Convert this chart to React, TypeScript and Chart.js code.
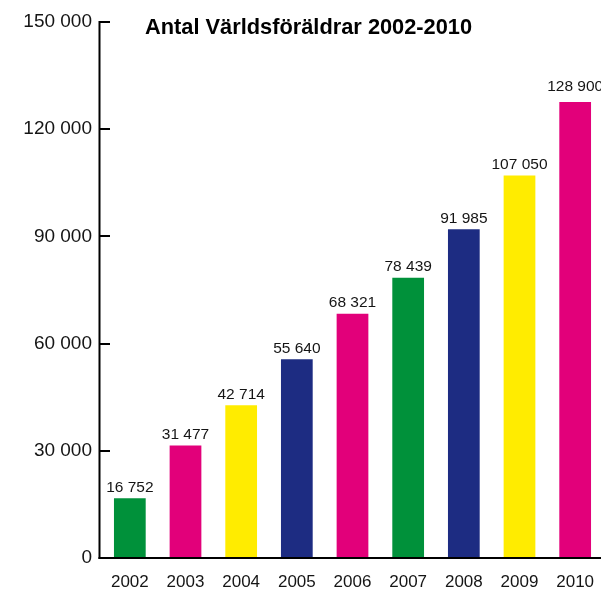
import { useEffect, useRef } from "react";
import { Chart, registerables } from "chart.js";

Chart.register(...registerables);

const years = ["2002", "2003", "2004", "2005", "2006", "2007", "2008", "2009", "2010"];
const barValues = [16752, 31477, 42714, 55640, 68321, 78439, 91985, 107050, 127600];
const printedValues = [16752, 31477, 42714, 55640, 68321, 78439, 91985, 107050, 128900];
const barColors = ["#00913A", "#E2007A", "#FFEC00", "#1D2C82", "#E2007A", "#00913A", "#1D2C82", "#FFEC00", "#E2007A"];
const yTicks = [0, 30000, 60000, 90000, 120000, 150000];
const chartTitle = "Antal Världsföräldrar 2002-2010";

const FONT = "'Liberation Sans', Arial, Helvetica, sans-serif";
const TEXT = "#151515";

const fmt = (n: number) => String(n).replace(/\B(?=(\d{3})+(?!\d))/g, " ");

const decor = {
  id: "decor",
  afterDraw(chart: any) {
    const { ctx, chartArea, scales } = chart;
    const ys = scales.y;
    const axisX = chartArea.left - 2.5;
    ctx.save();
    ctx.strokeStyle = "#000";
    ctx.lineWidth = 2;
    ctx.beginPath();
    ctx.moveTo(axisX, ys.getPixelForValue(150000) - 1);
    ctx.lineTo(axisX, chartArea.bottom + 1);
    ctx.stroke();
    ctx.beginPath();
    ctx.moveTo(axisX - 1, chartArea.bottom);
    ctx.lineTo(chart.width, chartArea.bottom);
    ctx.stroke();
    yTicks.forEach((t) => {
      const py = Math.round(ys.getPixelForValue(t));
      ctx.beginPath();
      ctx.moveTo(axisX, py);
      ctx.lineTo(axisX + 10.5, py);
      ctx.stroke();
    });
    ctx.fillStyle = TEXT;
    ctx.font = `15.5px ${FONT}`;
    ctx.textAlign = "center";
    ctx.textBaseline = "alphabetic";
    const meta = chart.getDatasetMeta(0);
    meta.data.forEach((bar: any, i: number) => {
      const py = ys.getPixelForValue(printedValues[i]);
      ctx.fillText(fmt(printedValues[i]), bar.x, py - 6.5);
    });
    ctx.font = `bold 21.8px ${FONT}`;
    ctx.textAlign = "left";
    ctx.fillStyle = "#000";
    ctx.fillText(chartTitle, chartArea.left + 43, 34);
    ctx.restore();
  },
};

export default function App() {
  const ref = useRef<HTMLCanvasElement | null>(null);
  useEffect(() => {
    if (!ref.current) return;
    const chart = new Chart(ref.current, {
      type: "bar",
      data: {
        labels: years,
        datasets: [
          {
            data: barValues,
            backgroundColor: barColors,
            borderWidth: 0,
            barPercentage: 0.57,
            categoryPercentage: 1,
          },
        ],
      },
      options: {
        animation: false,
        responsive: true,
        maintainAspectRatio: false,
        layout: { padding: { top: 22, right: 2, left: 0, bottom: 0 } },
        plugins: { legend: { display: false }, tooltip: { enabled: false }, title: { display: false } },
        scales: {
          x: {
            grid: { display: false, drawTicks: false },
            border: { display: false },
            ticks: { font: { family: FONT, size: 17 }, color: TEXT, padding: 14 },
            afterFit: (s: any) => {
              s.height = 31;
              s.paddingLeft = 0;
              s.paddingRight = 0;
            },
          },
          y: {
            min: 0,
            max: 150000,
            grid: { display: false, drawTicks: false },
            border: { display: false },
            afterBuildTicks: (s: any) => {
              s.ticks = yTicks.map((v) => ({ value: v }));
            },
            ticks: {
              font: { family: FONT, size: 19 },
              color: TEXT,
              padding: 10,
              callback: (v: any) => fmt(Number(v)),
            },
            afterFit: (s: any) => {
              s.width = 102;
            },
          },
        },
      },
      plugins: [decor],
    });
    return () => chart.destroy();
  }, []);
  return (
    <div style={{ position: "fixed", left: 0, top: 0, width: 601, height: 589, overflow: "hidden", background: "#fff" }}>
      <div style={{ position: "relative", width: 605, height: 589 }}>
        <canvas ref={ref} />
      </div>
    </div>
  );
}
